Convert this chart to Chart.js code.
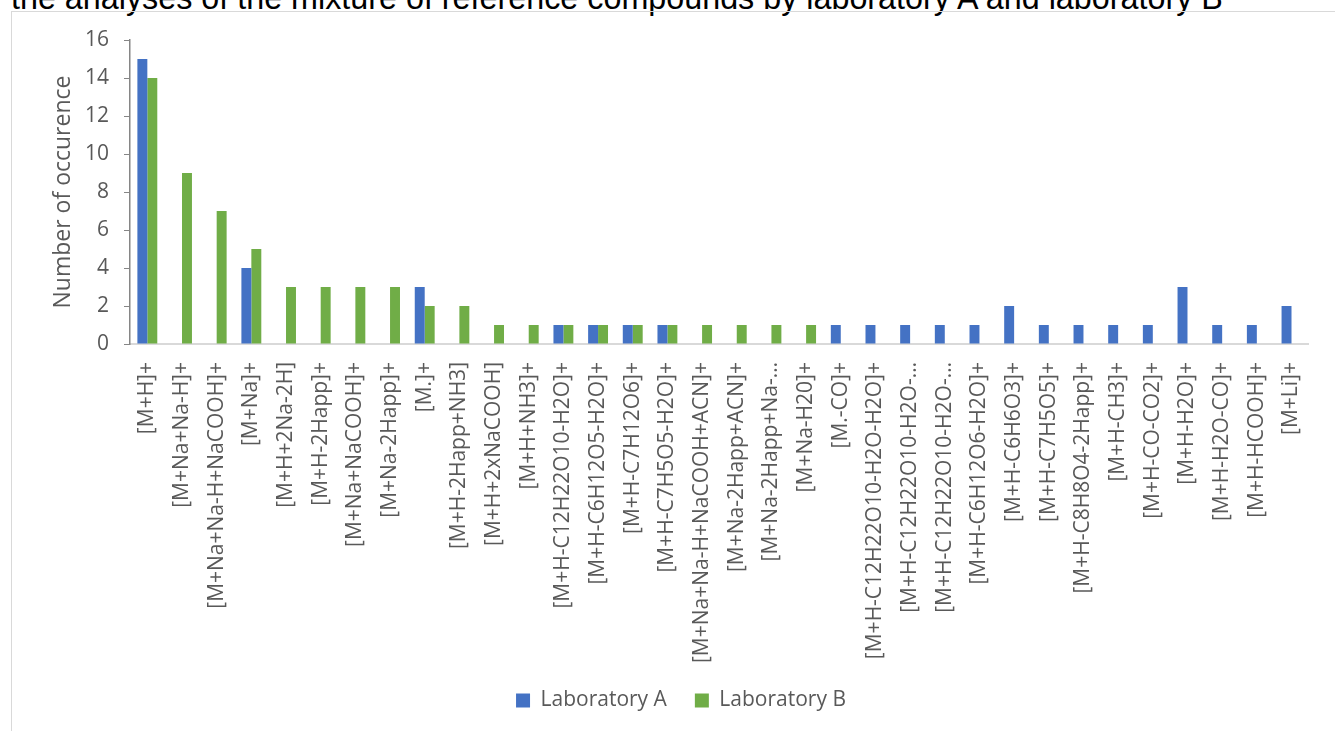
<!DOCTYPE html>
<html>
<head>
<meta charset="utf-8">
<script src="https://cdn.jsdelivr.net/npm/chart.js@4.4.1/dist/chart.umd.min.js"></script>
<style>
  html, body { margin:0; padding:0; background:#fff; overflow:hidden; }
  #wrap { position:relative; width:1335px; height:731px; overflow:hidden; }
  #title { position:absolute; left:11px; top:-18px; font:32.3px "Liberation Sans", Arial, sans-serif; line-height:32px; color:#000; white-space:nowrap; }
  #frame { position:absolute; left:11px; top:11px; width:1400px; height:800px; border:1px solid #d9d9d9; }
  #chart { position:absolute; left:0; top:0; }
</style>
</head>
<body>
<div id="wrap">
  <div id="title">the analyses of the mixture of reference compounds by laboratory A and laboratory B</div>
  <div id="frame"></div>
  <canvas id="chart" width="1335" height="731"></canvas>
</div>
<script>
const adducts = [
  "[M+H]+", "[M+Na+Na-H]+", "[M+Na+Na-H+NaCOOH]+", "[M+Na]+", "[M+H+2Na-2H]",
  "[M+H-2Happ]+", "[M+Na+NaCOOH]+", "[M+Na-2Happ]+", "[M.]+", "[M+H-2Happ+NH3]",
  "[M+H+2xNaCOOH]", "[M+H+NH3]+", "[M+H-C12H22O10-H2O]+", "[M+H-C6H12O5-H2O]+",
  "[M+H-C7H12O6]+", "[M+H-C7H5O5-H2O]+", "[M+Na+Na-H+NaCOOH+ACN]+", "[M+Na-2Happ+ACN]+",
  "[M+Na-2Happ+Na-…", "[M+Na-H20]+", "[M.-CO]+", "[M+H-C12H22O10-H2O-H2O]+",
  "[M+H-C12H22O10-H2O-…", "[M+H-C12H22O10-H2O-…", "[M+H-C6H12O6-H2O]+", "[M+H-C6H6O3]+",
  "[M+H-C7H5O5]+", "[M+H-C8H8O4-2Happ]+", "[M+H-CH3]+", "[M+H-CO-CO2]+",
  "[M+H-H2O]+", "[M+H-H2O-CO]+", "[M+H-HCOOH]+", "[M+Li]+"
];
const labA = [15, null, null, 4, null, null, null, null, 3, null, null, null, 1, 1, 1, 1,
  null, null, null, null, 1, 1, 1, 1, 1, 2, 1, 1, 1, 1, 3, 1, 1, 2];
const labB = [14, 9, 7, 5, 3, 3, 3, 3, 2, 2, 1, 1, 1, 1, 1, 1,
  1, 1, 1, 1, null, null, null, null, null, null, null, null, null, null, null, null, null, null];
const yTicks = { min: 0, max: 16, step: 2 };

const FONT = "'Open Sans', 'Segoe UI', sans-serif";
const GREY = "#595959";

new Chart(document.getElementById("chart"), {
  type: "bar",
  data: {
    labels: adducts,
    datasets: [
      { label: "Laboratory A", data: labA, backgroundColor: "#4472c4" },
      { label: "Laboratory B", data: labB, backgroundColor: "#70ad47" }
    ]
  },
  options: {
    responsive: false,
    animation: false,
    categoryPercentage: 0.574,
    barPercentage: 1,
    layout: { padding: { top: 40, right: 20, bottom: 10, left: 47 } },
    plugins: {
      tooltip: { enabled: false },
      legend: {
        position: "bottom",
        labels: { boxWidth: 14, boxHeight: 14, padding: 28, color: GREY, font: { family: FONT, size: 21 } }
      }
    },
    scales: {
      x: {
        afterFit: s => { s.height = 318; },
        grid: { display: false, drawTicks: false },
        border: { display: true, color: "#d9d9d9", width: 2 },
        ticks: { color: GREY, font: { family: FONT, size: 21 }, minRotation: 90, maxRotation: 90, padding: 18, autoSkip: false }
      },
      y: {
        min: yTicks.min, max: yTicks.max,
        afterFit: s => { s.width = 83; },
        grid: { drawOnChartArea: false, drawTicks: true, tickLength: 6, color: "#868686" },
        border: { display: true, color: "#868686", width: 1.5 },
        ticks: { stepSize: yTicks.step, color: GREY, font: { family: FONT, size: 21 }, padding: 15 },
        title: { display: true, text: "Number of occurence", color: GREY, font: { family: FONT, size: 23 }, padding: { top: 3, bottom: 0 } }
      }
    }
  }
});
</script>
</body>
</html>
